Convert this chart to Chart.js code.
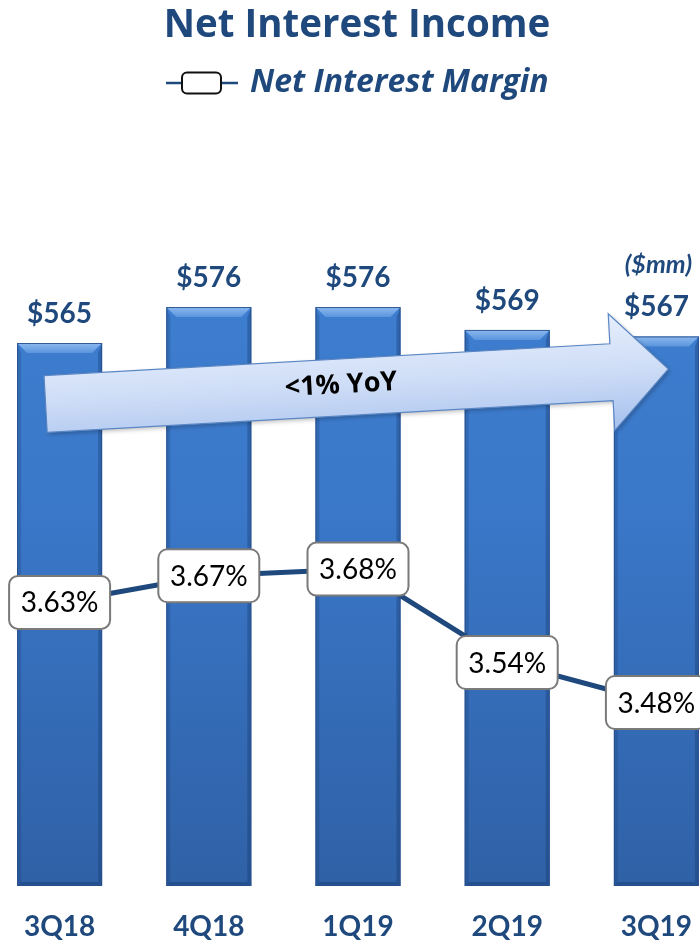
<!DOCTYPE html>
<html>
<head>
<meta charset="utf-8">
<title>Net Interest Income</title>
<script src="https://cdn.jsdelivr.net/npm/chart.js@4.4.1/dist/chart.umd.min.js"></script>
<style>
  html, body { margin: 0; padding: 0; background: #fff; overflow: hidden; }
  #wrap { position: relative; left: -15px; width: 746px; height: 943px; }
</style>
</head>
<body>
<div id="wrap"><canvas id="nii" width="746" height="943"></canvas></div>
<script>
const quarters = ['3Q18', '4Q18', '1Q19', '2Q19', '3Q19'];
const incomeValues = [565, 576, 576, 569, 567];   // $mm
const marginValues = [3.63, 3.67, 3.68, 3.54, 3.48]; // %

const incomeMin = 399, incomeMax = 624;
const navy = '#1f497d';
const FONT = 'Lato, "Open Sans", sans-serif';
const WIDE = '"Open Sans", Lato, sans-serif';

// vertical fill for the bars
function barFill(context) {
  const chart = context.chart;
  const area = chart.chartArea;
  if (!area) return '#3b7bcf';
  const g = chart.ctx.createLinearGradient(0, area.top, 0, area.bottom);
  g.addColorStop(0, '#4082d4');
  g.addColorStop(0.5, '#3a77c8');
  g.addColorStop(1, '#2f61a6');
  return g;
}

// bevel on the bars + the trend arrow, drawn right after the bars
const barDecor = {
  id: 'barDecor',
  afterDatasetDraw(chart, args) {
    if (args.meta.type !== 'bar') return;
    const ctx = chart.ctx;
    ctx.save();
    args.meta.data.forEach((bar) => {
      const left = bar.x - bar.width / 2, right = bar.x + bar.width / 2;
      const top = bar.y, base = bar.base, b = 10, s = 4;
      // top bevel
      const tg = ctx.createLinearGradient(0, top, 0, top + b);
      tg.addColorStop(0, '#8cb9ef');
      tg.addColorStop(1, '#5b95de');
      ctx.fillStyle = tg;
      ctx.beginPath();
      ctx.moveTo(left, top); ctx.lineTo(right, top);
      ctx.lineTo(right - b, top + b); ctx.lineTo(left + b, top + b);
      ctx.closePath(); ctx.fill();
      // side edges
      ctx.fillStyle = 'rgba(20, 50, 100, 0.22)';
      ctx.beginPath();
      ctx.moveTo(left, top); ctx.lineTo(left + s, top + b);
      ctx.lineTo(left + s, base - s); ctx.lineTo(left, base);
      ctx.closePath(); ctx.fill();
      ctx.fillStyle = 'rgba(20, 50, 100, 0.32)';
      ctx.beginPath();
      ctx.moveTo(right, top); ctx.lineTo(right - s, top + b);
      ctx.lineTo(right - s, base - s); ctx.lineTo(right, base);
      ctx.closePath(); ctx.fill();
      // bottom edge
      ctx.fillStyle = 'rgba(20, 50, 100, 0.35)';
      ctx.beginPath();
      ctx.moveTo(left, base); ctx.lineTo(left + s, base - s);
      ctx.lineTo(right - s, base - s); ctx.lineTo(right, base);
      ctx.closePath(); ctx.fill();
      ctx.strokeStyle = 'rgba(40, 80, 140, 0.9)';
      ctx.lineWidth = 1;
      ctx.strokeRect(left + 0.5, top + 0.5, bar.width - 1, base - top - 1);
    });

    // "<1% YoY" arrow across the bars
    const xs = chart.scales.x, area = chart.chartArea;
    const x0 = xs.getPixelForValue(0) - 14;
    const x1 = xs.getPixelForValue(quarters.length - 1) + 12;
    const y0 = area.top + 254, y1 = area.top + 219;
    const len = Math.hypot(x1 - x0, y1 - y0);
    const ang = Math.atan2(y1 - y0, x1 - x0);
    const headLen = 57, shaftH = 28.5, headH = 58.5;
    ctx.translate(x0, y0);
    ctx.rotate(ang);
    ctx.beginPath();
    ctx.moveTo(0, -shaftH);
    ctx.lineTo(len - headLen, -shaftH);
    ctx.lineTo(len - headLen, -headH);
    ctx.lineTo(len, 0);
    ctx.lineTo(len - headLen, headH);
    ctx.lineTo(len - headLen, shaftH);
    ctx.lineTo(0, shaftH);
    ctx.closePath();
    const ag = ctx.createLinearGradient(0, -headH, 0, headH);
    ag.addColorStop(0, '#e6eefc');
    ag.addColorStop(0.5, '#cddcf6');
    ag.addColorStop(1, '#a4c0ee');
    ctx.shadowColor = 'rgba(0,0,0,0.25)';
    ctx.shadowBlur = 4;
    ctx.shadowOffsetX = 2;
    ctx.shadowOffsetY = 2;
    ctx.fillStyle = ag;
    ctx.fill();
    ctx.shadowColor = 'transparent';
    ctx.strokeStyle = '#5a86c4';
    ctx.lineWidth = 1.2;
    ctx.stroke();
    ctx.fillStyle = '#000';
    ctx.font = 'bold 27px ' + WIDE;
    ctx.textAlign = 'center';
    ctx.textBaseline = 'middle';
    ctx.fillText('<1% YoY', 296, -2);
    ctx.restore();
  }
};

// title, legend, bar values and margin boxes
const annotations = {
  id: 'annotations',
  afterDatasetsDraw(chart) {
    const ctx = chart.ctx;
    const cx = chart.width / 2;
    ctx.save();
    ctx.fillStyle = navy;
    ctx.textAlign = 'center';
    ctx.textBaseline = 'alphabetic';
    ctx.font = 'bold 38.5px ' + WIDE;
    ctx.fillText('Net Interest Income', cx - 1, 37);

    // legend entry for the margin line
    const lx = 181;
    ctx.strokeStyle = navy;
    ctx.lineWidth = 2.5;
    ctx.beginPath(); ctx.moveTo(lx, 83); ctx.lineTo(lx + 72, 83); ctx.stroke();
    ctx.fillStyle = '#fff';
    ctx.strokeStyle = '#111';
    ctx.lineWidth = 2;
    ctx.beginPath(); ctx.roundRect(lx + 16, 72.5, 39, 21, 5); ctx.fill(); ctx.stroke();
    ctx.fillStyle = navy;
    ctx.textAlign = 'left';
    ctx.font = 'italic bold 32px ' + WIDE;
    ctx.fillText('Net Interest Margin', lx + 84, 92);

    // bar values
    const bars = chart.getDatasetMeta(1).data;
    ctx.textAlign = 'center';
    ctx.font = 'bold 28px ' + FONT;
    bars.forEach((bar, i) => {
      ctx.fillText('$' + incomeValues[i], bar.x, bar.y - 20);
    });
    const last = bars[bars.length - 1];
    ctx.font = 'italic bold 25px ' + FONT;
    ctx.fillText('($mm)', last.x + 2, last.y - 63);

    // margin value boxes
    const pts = chart.getDatasetMeta(0).data;
    ctx.font = '28px ' + FONT;
    ctx.textBaseline = 'middle';
    pts.forEach((p, i) => {
      ctx.fillStyle = '#fff';
      ctx.strokeStyle = '#7a7a7a';
      ctx.lineWidth = 2;
      ctx.beginPath();
      ctx.roundRect(p.x - 50.5, p.y - 26.5, 101, 53, 9);
      ctx.fill(); ctx.stroke();
      ctx.fillStyle = '#000';
      ctx.fillText(marginValues[i].toFixed(2) + '%', p.x, p.y + 1);
    });
    ctx.restore();
  }
};

new Chart(document.getElementById('nii'), {
  type: 'bar',
  data: {
    labels: quarters,
    datasets: [
      {
        type: 'line',
        label: 'Net Interest Margin',
        data: marginValues,
        yAxisID: 'y2',
        borderColor: navy,
        borderWidth: 5,
        pointRadius: 0,
        tension: 0,
        order: 1
      },
      {
        label: 'Net Interest Income',
        data: incomeValues,
        yAxisID: 'y',
        base: incomeMin,
        backgroundColor: barFill,
        borderWidth: 0,
        barPercentage: 0.57,
        categoryPercentage: 1,
        order: 2
      }
    ]
  },
  options: {
    responsive: false,
    animation: false,
    devicePixelRatio: 1,
    layout: { padding: { top: 150, left: 0, right: 0, bottom: 0 } },
    plugins: {
      legend: { display: false },
      title: { display: false },
      tooltip: { enabled: false }
    },
    scales: {
      x: {
        grid: { display: false, drawTicks: false },
        border: { display: false },
        ticks: {
          color: navy,
          padding: 26,
          font: { family: FONT, size: 28, weight: 'bold', lineHeight: 1.1 }
        },
        afterFit(scale) { scale.height = 57; }
      },
      y: { display: false, beginAtZero: false, min: incomeMin, max: incomeMax },
      y2: { display: false, min: 3.2049, max: 4.3083 }
    }
  },
  plugins: [barDecor, annotations]
});
</script>
</body>
</html>
